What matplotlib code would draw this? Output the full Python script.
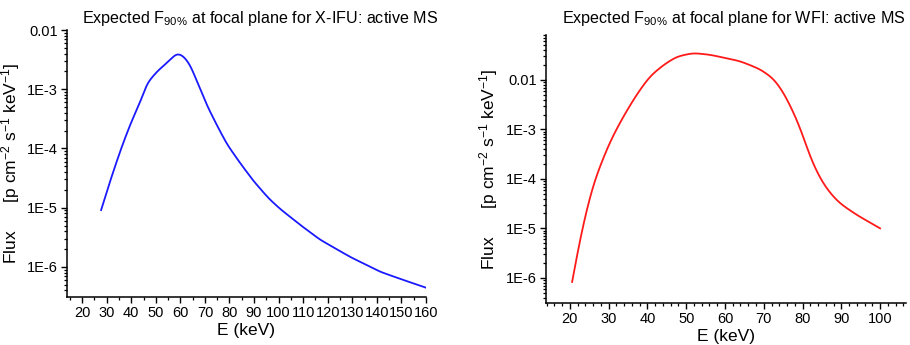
import numpy as np
import matplotlib
matplotlib.use("Agg")
import matplotlib.pyplot as plt
from matplotlib.ticker import FixedLocator, LogLocator, MultipleLocator, NullFormatter

plt.rcParams['font.family'] = ['Liberation Sans', 'DejaVu Sans']
plt.rcParams['mathtext.fontset'] = 'custom'
plt.rcParams['mathtext.rm'] = 'Liberation Sans'
plt.rcParams['mathtext.it'] = 'Liberation Sans:italic'

# X-IFU data (energy keV, log10 flux)
xifu_E = [27.7, 31.5, 35.6, 39.7, 43.7, 46.4, 50.5, 54.6, 58.6, 61.3, 64.0, 66.8,
          70.8, 74.9, 79.0, 84.4, 89.8, 95.9, 100.6, 108.8, 116.9, 129.1, 141.3, 149.4, 160.0]
xifu_logF = [-5.04, -4.535, -4.03, -3.58, -3.21, -2.90, -2.70, -2.55, -2.39, -2.44, -2.59,
             -2.87, -3.27, -3.61, -3.93, -4.25, -4.55, -4.84, -5.02, -5.29, -5.54,
             -5.83, -6.08, -6.20, -6.35]

# WFI data (energy keV, log10 flux)
wfi_E = [20.6, 21.7, 23.4, 26.0, 28.6, 30.8, 33.8, 37.2, 40.6, 44.1, 47.5, 51.8, 56.1,
         63.9, 69.0, 72.5, 75.0, 77.6, 79.8, 81.9, 84.5, 87.1, 89.7, 94.0, 100.0]
wfi_logF = [-6.08, -5.61, -4.93, -4.12, -3.58, -3.18, -2.74, -2.30, -1.93, -1.70, -1.53,
            -1.455, -1.49, -1.62, -1.78, -1.97, -2.24, -2.64, -3.05, -3.55, -3.99, -4.29,
            -4.50, -4.73, -5.00]

xifu_xticks = list(range(20, 161, 10))
wfi_xticks = list(range(20, 101, 10))
ytick_vals = [1e-6, 1e-5, 1e-4, 1e-3, 1e-2]
ytick_labels = ['1E-6', '1E-5', '1E-4', '1E-3', '0.01']

ylabel = 'Flux      [p cm$^{-2}$ s$^{-1}$ keV$^{-1}$]'


def smooth_curve(E, logF, sigma=1.1, step=0.05):
    """Linear interpolation in log space, softened with a small Gaussian kernel."""
    x = np.asarray(E, float); y = np.asarray(logF, float)
    xs = np.arange(x[0], x[-1] + step / 2, step)
    ys = np.interp(xs, x, y)
    k = int(4 * sigma / step)
    s0 = (y[1] - y[0]) / (x[1] - x[0]); s1 = (y[-1] - y[-2]) / (x[-1] - x[-2])
    left = ys[0] - s0 * step * np.arange(k, 0, -1)
    right = ys[-1] + s1 * step * np.arange(1, k + 1)
    pad = np.concatenate([left, ys, right])
    g = np.exp(-0.5 * (np.arange(-k, k + 1) * step / sigma) ** 2)
    g /= g.sum()
    ysm = np.convolve(pad, g, mode='valid')
    return xs, 10 ** ysm


fig = plt.figure(figsize=(9.1, 3.45), dpi=100)
ax1 = fig.add_axes([0.0736, 0.139, 0.3944, 0.774])
ax2 = fig.add_axes([0.5997, 0.1217, 0.3956, 0.7769])

x1, y1 = smooth_curve(xifu_E, xifu_logF)
x2, y2 = smooth_curve(wfi_E, wfi_logF)
ax1.plot(x1, y1, color='#1a1aff', lw=1.3)
ax2.plot(x2, y2, color='#ff1a1a', lw=1.3)

for ax, xt, xmax, xminor, ylim in [(ax1, xifu_xticks, 160, 5, (3.1e-7, 1e-2)),
                                   (ax2, wfi_xticks, 106.6, 2, (3.1e-7, 0.081))]:
    ax.set_yscale('log')
    ax.set_ylim(*ylim)
    ax.set_xlim(13.8, xmax)
    ax.spines['top'].set_visible(False)
    ax.spines['right'].set_visible(False)
    for s in ('left', 'bottom'):
        ax.spines[s].set_linewidth(1.1)
    ax.xaxis.set_major_locator(FixedLocator(xt))
    ax.xaxis.set_minor_locator(MultipleLocator(xminor))
    ax.set_xticklabels([str(v) for v in xt])
    ax.yaxis.set_major_locator(FixedLocator(ytick_vals))
    ax.set_yticklabels(ytick_labels)
    ax.yaxis.set_minor_locator(LogLocator(base=10, subs=np.arange(2, 10), numticks=20))
    ax.yaxis.set_minor_formatter(NullFormatter())
    ax.tick_params(axis='both', which='major', direction='out', length=4.5, width=1.0,
                   labelsize=10.5, pad=2)
    ax.tick_params(axis='both', which='minor', direction='out', length=2.5, width=0.9)
    ax.set_xlabel('E (keV)', fontsize=12.5, labelpad=2)

ax1.set_ylabel(ylabel, fontsize=12.5, labelpad=4)
ax2.set_ylabel(ylabel, fontsize=12.5, labelpad=4)

fig.text(0.286, 0.945, 'Expected F$_{\\mathregular{90\\%}}$ at focal plane for X-IFU: active MS',
         ha='center', va='center', fontsize=11.6)
fig.text(0.806, 0.945, 'Expected F$_{\\mathregular{90\\%}}$ at focal plane for WFI: active MS',
         ha='center', va='center', fontsize=11.6)

fig.savefig('out.png', dpi=100)
